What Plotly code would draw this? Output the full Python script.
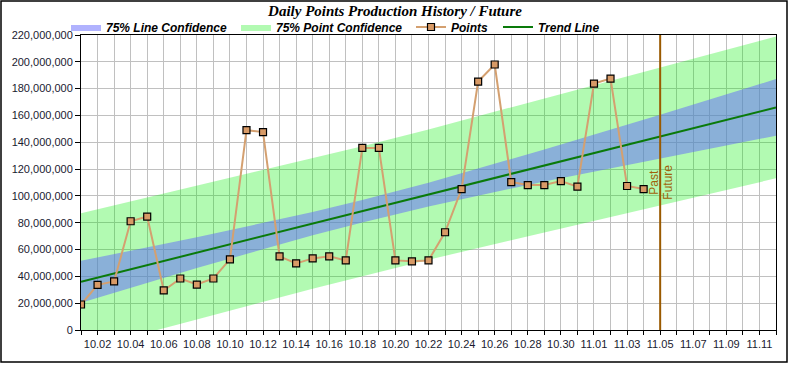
import plotly.graph_objects as go

# ---------------- data ----------------
dates = ["10.01", "10.02", "10.03", "10.04", "10.05", "10.06", "10.07", "10.08", "10.09", "10.10",
         "10.11", "10.12", "10.13", "10.14", "10.15", "10.16", "10.17", "10.18", "10.19", "10.20",
         "10.21", "10.22", "10.23", "10.24", "10.25", "10.26", "10.27", "10.28", "10.29", "10.30",
         "10.31", "11.01", "11.02", "11.03", "11.04", "11.05", "11.06", "11.07", "11.08", "11.09",
         "11.10", "11.11", "11.12"]

point_dates = dates[:35]
points = [19.0, 33.7, 36.2, 81.1, 84.6, 29.5, 38.4, 33.9, 38.4, 52.7,
          149.0, 147.6, 54.9, 49.7, 53.4, 54.9, 51.9, 135.8, 135.8, 51.9,
          51.2, 51.9, 72.9, 105.1, 185.3, 198.0, 110.3, 108.1, 108.1, 111.1,
          106.9, 183.8, 187.5, 107.4, 105.1]  # millions

trend_dates = ["10.01", "11.12"]
trend_values = [36.0, 166.0]  # millions

band_dates = ["10.01", "10.08", "10.15", "10.18", "10.22", "10.29", "11.05", "11.12"]
line_conf_upper = [51.6, 69.1, 88.0, 97.0, 109.9, 134.6, 160.6, 187.1]
line_conf_lower = [20.4, 46.3, 70.6, 80.2, 92.1, 110.8, 128.0, 144.9]
point_conf_upper = [87.0, 107.6, 127.8, 137.1, 149.6, 172.7, 195.5, 218.9]
point_conf_lower = [-15.0, 7.8, 30.8, 40.1, 52.4, 72.7, 93.1, 113.1]

split_date = "11.05"
split_label_level = 110  # millions
y_max = 220  # millions
label_dates = [d for i, d in enumerate(dates) if i % 2 == 1]

M = 1_000_000
def mil(v):
    return [x * M for x in v]

# ---------------- figure ----------------
fig = go.Figure()

legend_font = dict(family="Liberation Sans, Arial", size=12, color="#000000",
                   weight="bold", style="italic")

fig.add_trace(go.Scatter(
    x=band_dates + band_dates[::-1],
    y=mil(point_conf_upper + point_conf_lower[::-1]),
    fill="toself", fillcolor="rgba(0,238,0,0.30)", mode="lines",
    line=dict(width=0, color="rgba(0,0,0,0)"),
    name="75% Point Confidence", legend="legend2", hoverinfo="skip"))

fig.add_trace(go.Scatter(
    x=band_dates + band_dates[::-1],
    y=mil(line_conf_upper + line_conf_lower[::-1]),
    fill="toself", fillcolor="rgba(97,102,253,0.5)", mode="lines",
    line=dict(width=0, color="rgba(0,0,0,0)"),
    name="75% Line Confidence", legend="legend", hoverinfo="skip"))

fig.add_trace(go.Scatter(
    x=trend_dates, y=mil(trend_values), mode="lines",
    line=dict(color="#0A7A0A", width=2),
    name="Trend Line", legend="legend4"))

fig.add_trace(go.Scatter(
    x=point_dates, y=mil(points), mode="lines+markers",
    line=dict(color="#D4A070", width=2),
    marker=dict(symbol="square", size=7, color="#D89A66",
                line=dict(color="#000000", width=1.2)),
    name="Points", legend="legend3"))

fig.add_trace(go.Scatter(
    x=[split_date, split_date], y=[0, y_max * M], mode="lines",
    line=dict(color="#9A5A00", width=2), showlegend=False, hoverinfo="skip"))

split_idx = dates.index(split_date)
for label, shift in (("Past", -7), ("Future", 7)):
    fig.add_annotation(x=split_idx, y=split_label_level * M, text=label, textangle=-90,
                       showarrow=False, xshift=shift,
                       font=dict(family="Liberation Sans, Arial", size=12, color="#A0620A"))

L, R, T, B = 81, 14, 35, 35
W, H = 790, 365
pw, ph = W - L - R, H - T - B

def lx(px):
    return (px - L) / pw

def ly(py):
    return (H - B - py) / ph

leg_common = dict(orientation="h", yanchor="middle", xanchor="left",
                  font=legend_font, bgcolor="rgba(0,0,0,0)", borderwidth=0)

fig.update_layout(
    width=W, height=H,
    margin=dict(l=L, r=R, t=T, b=B, autoexpand=False),
    paper_bgcolor="#FFFFFF", plot_bgcolor="#FFFFFF",
    title=dict(text="Daily Points Production History / Future",
               x=0.5, xref="container", xanchor="center", y=1 - 11 / H, yanchor="middle",
               font=dict(family="Liberation Serif, Times New Roman", size=15,
                         color="#000000", weight="bold", style="italic")),
    showlegend=True,
    legend=dict(x=lx(66), y=ly(27), **leg_common),
    legend2=dict(x=lx(236), y=ly(27), **leg_common),
    legend3=dict(x=lx(411), y=ly(27), **leg_common),
    legend4=dict(x=lx(498), y=ly(27), **leg_common),
    xaxis=dict(
        type="category", categoryorder="array", categoryarray=dates,
        range=[0, len(dates) - 1],
        tickmode="array", tickvals=dates,
        ticktext=[d if d in label_dates else "" for d in dates],
        ticks="outside", ticklen=4, tickcolor="#000000",
        showgrid=True, gridcolor="#C0C0C0", gridwidth=1,
        showline=True, linecolor="#000000", linewidth=1, mirror=True,
        zeroline=False,
        tickfont=dict(family="Liberation Sans, Arial", size=11, color="#1A1A30"),
    ),
    yaxis=dict(
        range=[0, y_max * M], dtick=20 * M, tick0=0, tickformat=",d",
        ticks="outside", ticklen=5, tickcolor="#000000",
        showgrid=True, gridcolor="#C0C0C0", gridwidth=1,
        showline=True, linecolor="#000000", linewidth=1, mirror=True,
        zeroline=False,
        tickfont=dict(family="Liberation Sans, Arial", size=11, color="#1A1A30"),
    ),
)

# outer frame around the whole chart
fig.add_shape(type="rect", xref="paper", yref="paper",
              x0=lx(1), x1=lx(787), y0=ly(362), y1=ly(1),
              line=dict(color="#000000", width=1.5), fillcolor="rgba(0,0,0,0)",
              layer="above")

fig.write_html("out.html", config={"displayModeBar": False},
               post_script="document.body.style.margin='0';document.body.style.overflow='hidden';")
